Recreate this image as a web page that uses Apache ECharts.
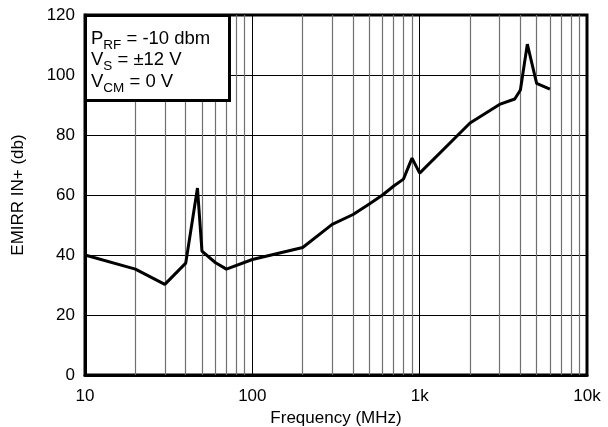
<!DOCTYPE html>
<html>
<head>
<meta charset="utf-8">
<script src="https://cdn.jsdelivr.net/npm/echarts@6/dist/echarts.min.js"></script>
<style>
  html, body { margin: 0; padding: 0; background: #fff; }
  #chart { width: 608px; height: 427px; }
</style>
</head>
<body>
<div id="chart"></div>
<script>
// EMIRR IN+ vs frequency
const freq = [10, 20, 30, 40, 47, 50, 60, 70, 100, 200, 300, 400, 500, 600, 700, 800, 900, 1000, 2000, 3000, 3700, 4000, 4400, 5000, 6000];
const emirr = [40, 35.3, 30.2, 37.3, 62.3, 41.3, 37.5, 35.3, 38.5, 42.5, 50.2, 53.5, 57, 60, 63, 65.3, 72.3, 67.3, 84, 90.2, 92, 95, 110.3, 97.2, 95.3];
const yTicks = [0, 20, 40, 60, 80, 100, 120];
const minorFreq = [20, 30, 40, 50, 60, 70, 80, 90, 200, 300, 400, 500, 600, 700, 800, 900, 2000, 3000, 4000, 5000, 6000, 7000, 8000, 9000];
const majorFreq = [100, 1000];

const font = '"Liberation Sans", Arial, sans-serif';
const chart = echarts.init(document.getElementById('chart'));

const option = {
  animation: false,
  backgroundColor: '#fff',
  textStyle: { fontFamily: font },
  grid: {
    left: 85, right: 21, top: 15, bottom: 52,
    containLabel: false, outerBoundsMode: 'none',
    show: true, borderColor: '#000', borderWidth: 3, backgroundColor: 'transparent'
  },
  xAxis: {
    type: 'log', logBase: 10, min: 10, max: 10000,
    name: 'Frequency (MHz)', nameLocation: 'middle', nameGap: 29,
    nameTextStyle: { color: '#000', fontSize: 17, fontFamily: font },
    axisLine: { show: true, lineStyle: { color: '#000', width: 3 } },
    axisTick: { show: false },
    axisLabel: {
      color: '#000', fontSize: 17, fontFamily: font, margin: 13,
      formatter: function (v) { return v >= 1000 ? (v / 1000) + 'k' : String(v); }
    },
    splitLine: { show: false }
  },
  yAxis: {
    type: 'value', min: 0, max: 120, interval: 20,
    name: 'EMIRR IN+ (db)', nameLocation: 'middle', nameGap: 58, nameRotate: 90,
    nameTextStyle: { color: '#000', fontSize: 17, fontFamily: font },
    axisLine: { show: true, lineStyle: { color: '#000', width: 3 } },
    axisTick: { show: false },
    axisLabel: { color: '#000', fontSize: 17, fontFamily: font, margin: 10 },
    splitLine: { show: true, lineStyle: { color: '#000', width: 1 } }
  },
  series: [
    {
      type: 'line',
      data: freq.map((f, i) => [f, emirr[i]]),
      showSymbol: false,
      lineStyle: { color: '#000', width: 3 },
      z: 5,
      markLine: {
        silent: true, symbol: 'none', label: { show: false },
        data: minorFreq.map(f => ({ xAxis: f, lineStyle: { color: '#707070', width: 1.2, type: 'solid' } }))
          .concat(majorFreq.map(f => ({ xAxis: f, lineStyle: { color: '#000', width: 1, type: 'solid' } })))
      }
    }
  ],
  graphic: [
    {
      type: 'rect', left: 84, top: 14, z: 100,
      shape: { width: 144, height: 85 },
      style: { fill: '#fff', stroke: '#000', lineWidth: 3 }
    },
    {
      type: 'text', left: 91, top: 29, z: 101,
      style: {
        text: '{a|P}{s|RF}{a| = -10 dbm}\n{a|V}{s|S}{a| = ±12 V}\n{a|V}{s|CM}{a| = 0 V}',
        fontFamily: font,
        rich: {
          a: { fontSize: 18.5, fill: '#000', fontFamily: font, lineHeight: 21.5, verticalAlign: 'bottom' },
          s: { fontSize: 13.5, fill: '#000', fontFamily: font, lineHeight: 21.5, verticalAlign: 'bottom', padding: [0, 0, -4, 0] }
        }
      }
    }
  ]
};

chart.setOption(option);
</script>
</body>
</html>
